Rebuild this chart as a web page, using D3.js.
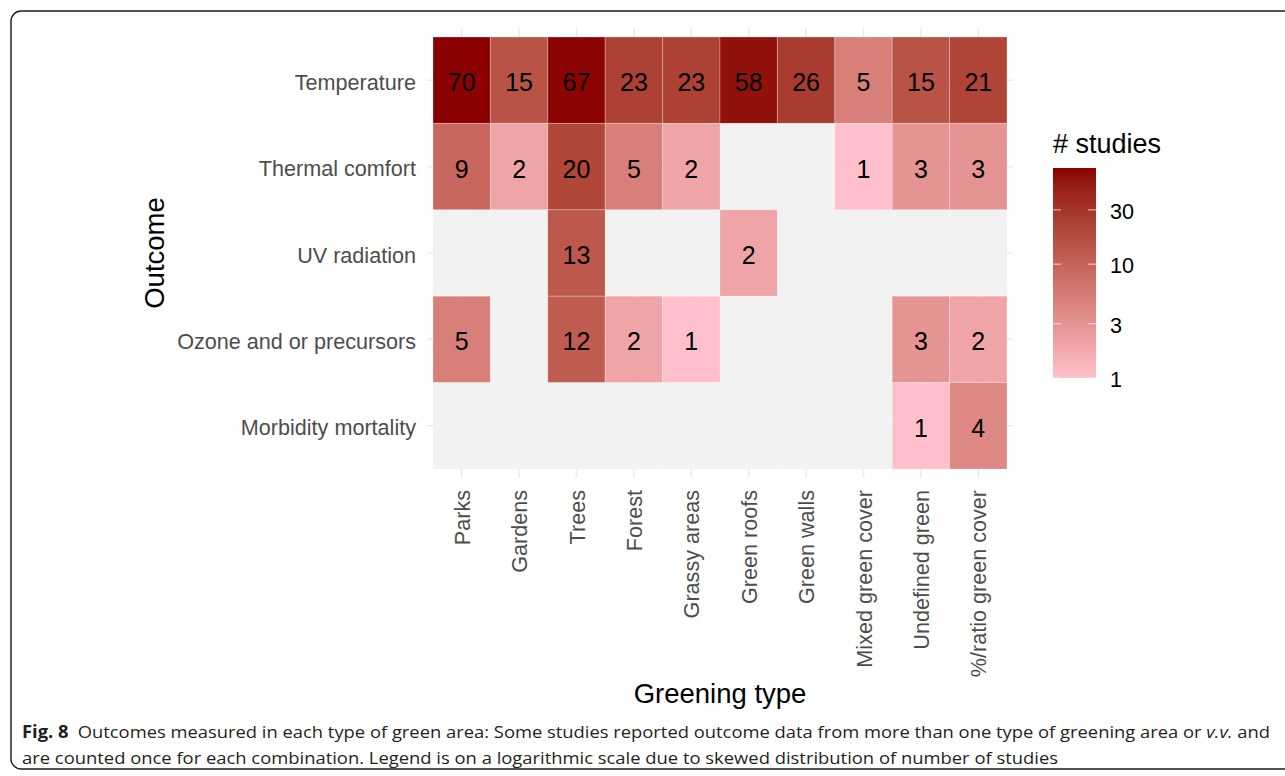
<!DOCTYPE html>
<meta charset="utf-8">
<body style="margin:0;background:#fff">
<script src="https://cdn.jsdelivr.net/npm/d3@7"></script>
<script>

    var outcomes = ["Temperature", "Thermal comfort", "UV radiation", "Ozone and or precursors", "Morbidity mortality"];
    var types = ["Parks", "Gardens", "Trees", "Forest", "Grassy areas", "Green roofs", "Green walls",
                 "Mixed green cover", "Undefined green", "%/ratio green cover"];

    // studies per outcome (rows) and greening type (columns), null = none
    var temperature = [70, 15, 67, 23, 23, 58, 26, 5, 15, 21];
    var thermal     = [9, 2, 20, 5, 2, null, null, 1, 3, 3];
    var uv          = [null, null, 13, null, null, 2, null, null, null, null];
    var ozone       = [5, null, 12, 2, 1, null, null, null, 3, 2];
    var morbidity   = [null, null, null, null, null, null, null, null, 1, 4];
    var legendTicks = [1, 3, 10, 30];

    var rows = [temperature, thermal, uv, ozone, morbidity];
    var cells = [];
    rows.forEach(function(r, i) {
        r.forEach(function(v, j) {
            cells.push({outcome: outcomes[i], type: types[j], value: v});
        });
    });

    var W = 1285, H = 776;
    var FONT = "'Liberation Sans', Arial, sans-serif";
    var svg = d3.select("body").append("svg")
        .attr("width", W)
        .attr("height", H)
        .style("display", "block");

    // figure frame
    svg.append("rect")
        .attr("x", 11).attr("y", 11)
        .attr("width", 1320).attr("height", 758)
        .attr("rx", 10)
        .attr("fill", "none")
        .attr("stroke", "#1a1a1a")
        .attr("stroke-width", 1.4);

    var x = d3.scaleBand().domain(types).range([433, 1007]);
    var y = d3.scaleBand().domain(outcomes).range([37, 469]);

    var color = d3.scaleLog()
        .domain([1, 70])
        .range(["pink", "darkred"])
        .interpolate(d3.interpolateLab);

    // grid stubs
    svg.append("g").selectAll("line")
        .data(types).enter().append("line")
        .attr("x1", function(d) { return x(d) + x.bandwidth() / 2; })
        .attr("x2", function(d) { return x(d) + x.bandwidth() / 2; })
        .attr("y1", 28).attr("y2", 478)
        .attr("stroke", "#ebebeb").attr("stroke-width", 1.6);
    svg.append("g").selectAll("line")
        .data(outcomes).enter().append("line")
        .attr("y1", function(d) { return y(d) + y.bandwidth() / 2; })
        .attr("y2", function(d) { return y(d) + y.bandwidth() / 2; })
        .attr("x1", 427).attr("x2", 1013)
        .attr("stroke", "#ebebeb").attr("stroke-width", 1.6);

    svg.append("g").selectAll("rect")
        .data(cells).enter().append("rect")
        .attr("x", function(d) { return x(d.type); })
        .attr("y", function(d) { return y(d.outcome); })
        .attr("width", x.bandwidth())
        .attr("height", y.bandwidth())
        .attr("fill", function(d) { return d.value == null ? "#f2f2f2" : color(d.value); })
        .attr("stroke", function(d) { return d.value == null ? "none" : "rgba(255,255,255,0.25)"; })
        .attr("stroke-width", 1);

    svg.append("g").selectAll("text")
        .data(cells.filter(function(d) { return d.value != null; }))
        .enter().append("text")
        .attr("x", function(d) { return x(d.type) + x.bandwidth() / 2; })
        .attr("y", function(d) { return y(d.outcome) + y.bandwidth() / 2 + 11; })
        .attr("text-anchor", "middle")
        .style("font-family", FONT).style("font-size", "25px")
        .attr("fill", "#000")
        .text(function(d) { return d.value; });

    // axis labels
    svg.append("g").selectAll("text")
        .data(outcomes).enter().append("text")
        .attr("x", 416)
        .attr("y", function(d) { return y(d) + y.bandwidth() / 2 + 9.5; })
        .attr("text-anchor", "end")
        .style("font-family", FONT).style("font-size", "21.6px")
        .attr("fill", "#4d4d4d")
        .text(function(d) { return d; });

    svg.append("g").selectAll("text")
        .data(types).enter().append("text")
        .attr("transform", function(d) {
            return "translate(" + (x(d) + x.bandwidth() / 2 + 8) + ",490) rotate(-90)";
        })
        .attr("text-anchor", "end")
        .style("font-family", FONT).style("font-size", "21.6px")
        .attr("fill", "#4d4d4d")
        .text(function(d) { return d; });

    svg.append("text")
        .attr("transform", "translate(164,253) rotate(-90)")
        .attr("text-anchor", "middle")
        .style("font-family", FONT).style("font-size", "27.5px")
        .text("Outcome");

    svg.append("text")
        .attr("x", 720).attr("y", 703)
        .attr("text-anchor", "middle")
        .style("font-family", FONT).style("font-size", "27.5px")
        .text("Greening type");

    // legend
    var lx = 1053, lw = 43, ltop = 168, lbot = 378;
    var ly = d3.scaleLog().domain([1, 70]).range([lbot, ltop]);
    var grad = svg.append("defs").append("linearGradient")
        .attr("id", "lg").attr("x1", 0).attr("x2", 0).attr("y1", 1).attr("y2", 0);
    d3.range(0, 1.0001, 0.05).forEach(function(t) {
        grad.append("stop")
            .attr("offset", t)
            .attr("stop-color", color(Math.pow(70, t)));
    });
    svg.append("rect")
        .attr("x", lx).attr("y", ltop)
        .attr("width", lw).attr("height", lbot - ltop)
        .attr("fill", "url(#lg)");

    var lt = svg.append("g").selectAll("g")
        .data(legendTicks).enter().append("g");
    lt.append("line")
        .attr("x1", lx).attr("x2", lx + 8)
        .attr("y1", function(d) { return ly(d); }).attr("y2", function(d) { return ly(d); })
        .attr("stroke", "rgba(255,255,255,0.6)").attr("stroke-width", 1.2);
    lt.append("line")
        .attr("x1", lx + lw - 8).attr("x2", lx + lw)
        .attr("y1", function(d) { return ly(d); }).attr("y2", function(d) { return ly(d); })
        .attr("stroke", "rgba(255,255,255,0.6)").attr("stroke-width", 1.2);
    lt.append("text")
        .attr("x", 1110)
        .attr("y", function(d) { return ly(d) + 9; })
        .style("font-family", FONT).style("font-size", "21.6px")
        .text(function(d) { return d; });

    svg.append("text")
        .attr("x", 1053).attr("y", 153)
        .style("font-family", FONT).style("font-size", "27px")
        .text("# studies");

    // caption
    var cap = "'Open Sans', 'Noto Sans', sans-serif";
    var c1 = svg.append("text")
        .attr("x", 22).attr("y", 738)
        .attr("textLength", 1248).attr("lengthAdjust", "spacingAndGlyphs")
        .style("font-family", cap).style("font-size", "17px")
        .attr("fill", "#231f20");
    c1.append("tspan").style("font-weight", "bold").text("Fig. 8");
    c1.append("tspan").text("\u2002Outcomes measured in each type of green area: Some studies reported outcome data from more than one type of greening area or ");
    c1.append("tspan").style("font-style", "italic").text("v.v.");
    c1.append("tspan").text(" and");

    svg.append("text")
        .attr("x", 22).attr("y", 764)
        .attr("textLength", 1036).attr("lengthAdjust", "spacingAndGlyphs")
        .style("font-family", cap).style("font-size", "17px")
        .attr("fill", "#231f20")
        .text("are counted once for each combination. Legend is on a logarithmic scale due to skewed distribution of number of studies");

</script>
</body>
